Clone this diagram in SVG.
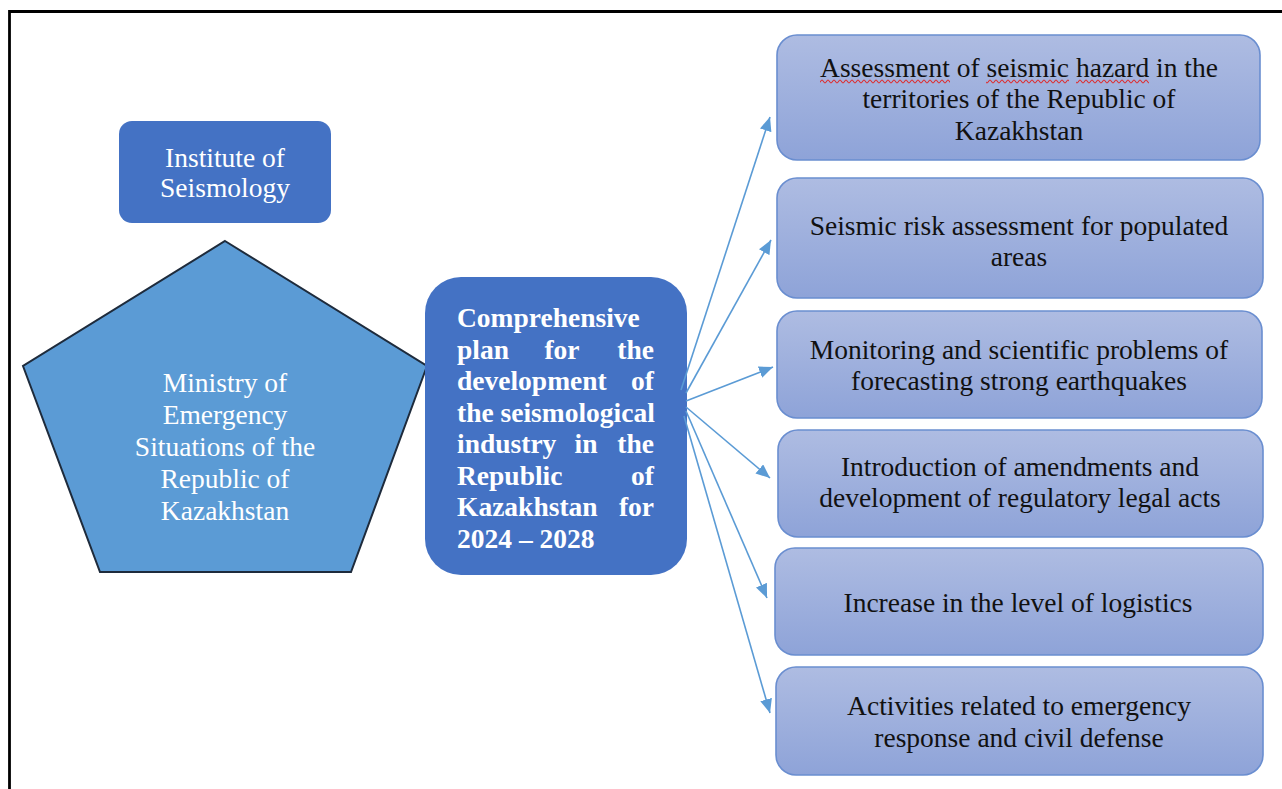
<svg xmlns="http://www.w3.org/2000/svg" width="1282" height="789" viewBox="0 0 1282 789">
  <defs>
    <linearGradient id="taskFill" x1="0" y1="0" x2="0" y2="1">
      <stop offset="0" stop-color="#AEBCE2"/>
      <stop offset="1" stop-color="#8EA3D8"/>
    </linearGradient>
    <marker id="arrowHead" viewBox="0 0 14 12" refX="14" refY="6" markerWidth="14" markerHeight="12" markerUnits="userSpaceOnUse" orient="auto">
      <path d="M0,0 L14,6 L0,12 Z" fill="#5B9BD5"/>
    </marker>
    <!-- spell-check squiggle tile -->
    <pattern id="squiggle" x="0" y="79" width="6" height="5" patternUnits="userSpaceOnUse">
      <path d="M0,1 C1,1 2,4 3,4 C4,4 5,1 6,1" fill="none" stroke="#E02828" stroke-width="1.1"/>
    </pattern>
    <style>
      text { font-family: 'Liberation Serif', 'Times New Roman', serif; font-size: 27.5px; }
      .white { fill: #FFFFFF; }
      .dark { fill: #111111; }
      .bold { font-weight: bold; }
      .mid { text-anchor: middle; }
      .end { text-anchor: end; }
      .main-box { fill: #4472C4; }
      .task { fill: url(#taskFill); stroke: #6A8ED0; stroke-width: 1.6; }
      .conn { fill: none; stroke: #5B9BD5; stroke-width: 1.6; marker-end: url(#arrowHead); }
    </style>
  </defs>

  <rect x="0" y="0" width="1282" height="789" fill="#FFFFFF"/>

  <!-- outer frame (top and left edges) -->
  <path d="M9.5,789 L9.5,11.5 L1282,11.5" fill="none" stroke="#000000" stroke-width="2.8"/>

  <g id="institute">
    <rect class="main-box" x="119" y="121" width="212" height="102" rx="13"/>
    <text class="white mid" x="225" y="167">Institute of</text>
    <text class="white mid" x="225" y="197">Seismology</text>
  </g>

  <g id="ministry">
    <polygon points="225,241 427,366 351,572 100,572 23,366" fill="#5B9BD5" stroke="#1E2B3C" stroke-width="2"/>
    <text class="white mid" x="225" y="392">Ministry of</text>
    <text class="white mid" x="225" y="424">Emergency</text>
    <text class="white mid" x="225" y="456">Situations of the</text>
    <text class="white mid" x="225" y="488">Republic of</text>
    <text class="white mid" x="225" y="520">Kazakhstan</text>
  </g>

  <g id="plan">
    <rect class="main-box" x="425" y="277" width="262" height="298" rx="36"/>
    <g class="white">
      <text class="bold" x="457" y="327">Comprehensive</text>
      <text class="bold" x="457" y="358.5">plan</text>
      <text class="bold mid" x="562" y="358.5">for</text>
      <text class="bold end" x="654" y="358.5">the</text>
      <text class="bold" x="457" y="390">development</text>
      <text class="bold end" x="654" y="390">of</text>
      <text class="bold" x="457" y="421.5">the seismological</text>
      <text class="bold" x="457" y="453">industry</text>
      <text class="bold mid" x="586" y="453">in</text>
      <text class="bold end" x="654" y="453">the</text>
      <text class="bold" x="457" y="484.5">Republic</text>
      <text class="bold end" x="654" y="484.5">of</text>
      <text class="bold" x="457" y="516">Kazakhstan</text>
      <text class="bold end" x="654" y="516">for</text>
      <text class="bold" x="457" y="547.5">2024 – 2028</text>
    </g>
  </g>

  <g id="connectors">
    <line class="conn" x1="681" y1="390" x2="770" y2="117"/>
    <line class="conn" x1="686" y1="393" x2="771" y2="240"/>
    <line class="conn" x1="686" y1="401" x2="773" y2="367"/>
    <line class="conn" x1="686" y1="407" x2="770" y2="478"/>
    <line class="conn" x1="686" y1="411" x2="767" y2="598"/>
    <line class="conn" x1="684" y1="416" x2="770" y2="713"/>
  </g>

  <g id="hazard">
    <rect class="task" x="777" y="35" width="483" height="125" rx="20"/>
    <text class="dark mid" x="1019" y="77">Assessment of seismic hazard in the</text>
    <text class="dark mid" x="1019" y="108">territories of the Republic of</text>
    <text class="dark mid" x="1019" y="140">Kazakhstan</text>
    <rect x="820" y="79" width="130" height="5" fill="url(#squiggle)"/>
    <rect x="986" y="79" width="83" height="5" fill="url(#squiggle)"/>
    <rect x="1076" y="79" width="73" height="5" fill="url(#squiggle)"/>
  </g>

  <g id="risk">
    <rect class="task" x="777" y="178" width="486" height="120" rx="20"/>
    <text class="dark mid" x="1019" y="235">Seismic risk assessment for populated</text>
    <text class="dark mid" x="1019" y="266">areas</text>
  </g>

  <g id="monitoring">
    <rect class="task" x="777" y="311" width="485" height="107" rx="20"/>
    <text class="dark mid" x="1019" y="359">Monitoring and scientific problems of</text>
    <text class="dark mid" x="1019" y="390">forecasting strong earthquakes</text>
  </g>

  <g id="regulation">
    <rect class="task" x="778" y="430" width="485" height="107" rx="20"/>
    <text class="dark mid" x="1020" y="476">Introduction of amendments and</text>
    <text class="dark mid" x="1020" y="507">development of regulatory legal acts</text>
  </g>

  <g id="logistics">
    <rect class="task" x="775" y="548" width="488" height="107" rx="20"/>
    <text class="dark mid" x="1018" y="612">Increase in the level of logistics</text>
  </g>

  <g id="emergency">
    <rect class="task" x="776" y="667" width="487" height="108" rx="20"/>
    <text class="dark mid" x="1019" y="715">Activities related to emergency</text>
    <text class="dark mid" x="1019" y="747">response and civil defense</text>
  </g>
</svg>
